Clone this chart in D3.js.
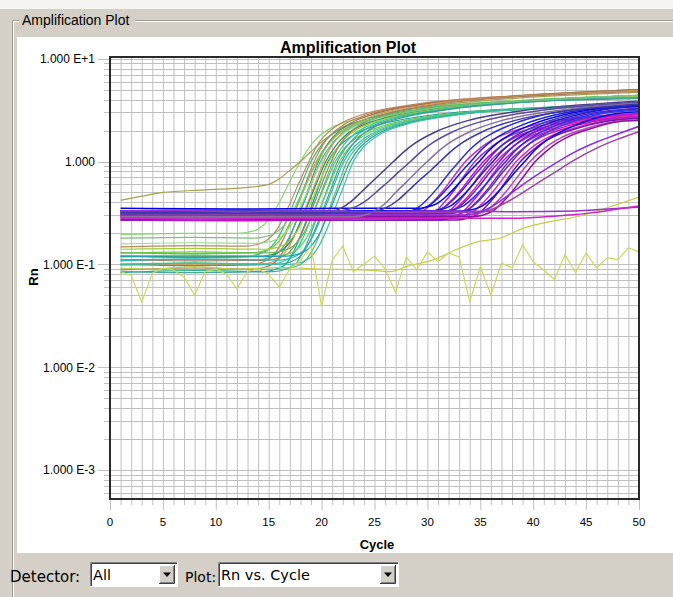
<!DOCTYPE html>
<html><head><meta charset="utf-8">
<script src="https://cdn.jsdelivr.net/npm/d3@7"></script>
<style>html,body{margin:0;padding:0;background:#d4d0c8;} svg{display:block;font-family:"Liberation Sans",Arial,sans-serif;}</style>
</head><body><svg id="c" width="673" height="597"></svg>
<script>
// ---------------- DATA ----------------
const chartTitle = "Amplification Plot";
const xLabel = "Cycle";
const yLabel = "Rn";
const xTickValues = [0, 5, 10, 15, 20, 25, 30, 35, 40, 45, 50];
const yTickValues = [10, 1, 0.1, 0.01, 0.001];
const yTickLabels = ["1.000 E+1", "1.000", "1.000 E-1", "1.000 E-2", "1.000 E-3"];

// early-amplifying detector (green family): [cycle, Rn] points
const greenCurves = [
 [[1,0.195],[7,0.2],[12,0.2],[13,0.205],[14,0.22],[15,0.27],[16,0.4],[17,0.64],[18,1],[19,1.45],[20,1.85],[21,2.15],[23,2.55],[28,3.2],[38,3.9],[50,4.4]],
 [[1,0.42],[3,0.46],[5,0.5],[9,0.53],[13,0.56],[15,0.6],[16,0.68],[17,0.82],[18,1.0],[19,1.25],[20,1.55],[21,1.85],[22,2.1],[24,2.55],[29,3.3],[38,4.1],[50,4.7]],
 [[1,0.148],[8,0.152],[12.8,0.15],[13.8,0.155],[14.8,0.17],[15.8,0.22],[16.8,0.35],[17.8,0.6],[18.8,1],[19.8,1.55],[20.8,2.0],[21.8,2.35],[23.8,2.85],[28.8,3.6],[38.8,4.4],[50,5.0]],
 [[1,0.118],[8,0.122],[13,0.12],[14,0.125],[15,0.14],[16,0.19],[17,0.32],[18,0.57],[19,1],[20,1.45],[21,1.85],[22,2.15],[24,2.55],[29,3.2],[39,3.9],[50,4.4]],
 [[1,0.098],[8,0.102],[13.3,0.1],[14.3,0.104],[15.3,0.118],[16.3,0.168],[17.3,0.295],[18.3,0.545],[19.3,1],[20.3,1.55],[21.3,2.0],[22.3,2.35],[24.3,2.85],[29.3,3.6],[39.3,4.4],[50,5.0]],
 [[1,0.128],[8,0.132],[13.5,0.13],[14.5,0.135],[15.5,0.15],[16.5,0.2],[17.5,0.33],[18.5,0.58],[19.5,1],[20.5,1.45],[21.5,1.85],[22.5,2.15],[24.5,2.55],[29.5,3.2],[39.5,3.9],[50,4.4]],
 [[1,0.088],[8,0.092],[13.7,0.09],[14.7,0.094],[15.7,0.107],[16.7,0.155],[17.7,0.28],[18.7,0.53],[19.7,1],[20.7,1.55],[21.7,2.0],[22.7,2.35],[24.7,2.85],[29.7,3.6],[39.7,4.4],[50,5.0]],
 [[1,0.108],[8,0.112],[13.9,0.11],[14.9,0.115],[15.9,0.13],[16.9,0.18],[17.9,0.31],[18.9,0.56],[19.9,1],[20.9,1.45],[21.9,1.85],[22.9,2.15],[24.9,2.55],[29.9,3.2],[39.9,3.9],[50,4.4]],
 [[1,0.158],[8,0.162],[14,0.16],[15,0.165],[16,0.18],[17,0.23],[18,0.36],[19,0.61],[20,1],[21,1.45],[22,1.85],[23,2.15],[25,2.55],[30,3.2],[40,3.9],[50,4.4]],
 [[1,0.1],[8,0.099],[14.2,0.1],[15.2,0.104],[16.2,0.118],[17.2,0.168],[18.2,0.295],[19.2,0.545],[20.2,1],[21.2,1.55],[22.2,2.0],[23.2,2.35],[25.2,2.85],[30.2,3.6],[40.2,4.4],[50,4.9]],
 [[1,0.12],[8,0.118],[14.4,0.12],[15.4,0.125],[16.4,0.14],[17.4,0.19],[18.4,0.32],[19.4,0.57],[20.4,1],[21.4,1.45],[22.4,1.85],[23.4,2.15],[25.4,2.55],[30.4,3.2],[40.4,3.9],[50,4.3]],
 [[1,0.083],[8,0.087],[14.6,0.085],[15.6,0.089],[16.6,0.1],[17.6,0.15],[18.6,0.275],[19.6,0.525],[20.6,1],[21.6,1.4],[22.6,1.7],[23.6,1.95],[25.6,2.3],[30.6,2.85],[40.6,3.35],[50,3.7]],
 [[1,0.14],[8,0.143],[14.7,0.14],[15.7,0.145],[16.7,0.16],[17.7,0.21],[18.7,0.34],[19.7,0.59],[20.7,1],[21.7,1.45],[22.7,1.85],[23.7,2.15],[25.7,2.55],[30.7,3.2],[40.7,3.9],[50,4.3]],
 [[1,0.112],[8,0.108],[14.9,0.11],[15.9,0.115],[16.9,0.13],[17.9,0.18],[18.9,0.31],[19.9,0.56],[20.9,1],[21.9,1.55],[22.9,2.0],[23.9,2.35],[25.9,2.85],[30.9,3.6],[40.9,4.4],[50,4.8]],
 [[1,0.1],[8,0.103],[15.1,0.1],[16.1,0.104],[17.1,0.118],[18.1,0.168],[19.1,0.295],[20.1,0.545],[21.1,1],[22.1,1.45],[23.1,1.85],[24.1,2.15],[26.1,2.55],[31.1,3.2],[41.1,3.9],[50,4.2]],
 [[1,0.13],[8,0.127],[15.3,0.13],[16.3,0.135],[17.3,0.15],[18.3,0.2],[19.3,0.33],[20.3,0.58],[21.3,1],[22.3,1.4],[23.3,1.7],[24.3,1.95],[26.3,2.3],[31.3,2.85],[41.3,3.35],[50,3.7]],
 [[1,0.085],[8,0.083],[15.5,0.085],[16.5,0.089],[17.5,0.1],[18.5,0.15],[19.5,0.275],[20.5,0.525],[21.5,1],[22.5,1.45],[23.5,1.85],[24.5,2.15],[26.5,2.55],[31.5,3.2],[41.5,3.9],[50,4.2]],
 [[1,0.12],[8,0.123],[15.7,0.12],[16.7,0.125],[17.7,0.14],[18.7,0.19],[19.7,0.32],[20.7,0.57],[21.7,1],[22.7,1.4],[23.7,1.7],[24.7,1.95],[26.7,2.3],[31.7,2.85],[41.7,3.35],[50,3.6]],
 [[1,0.1],[8,0.097],[15.9,0.1],[16.9,0.104],[17.9,0.118],[18.9,0.168],[19.9,0.295],[20.9,0.545],[21.9,1],[22.9,1.45],[23.9,1.85],[24.9,2.15],[26.9,2.55],[31.9,3.2],[41.9,3.9],[50,4.1]],
 [[1,0.11],[8,0.113],[16.1,0.11],[17.1,0.115],[18.1,0.13],[19.1,0.18],[20.1,0.31],[21.1,0.56],[22.1,1],[23.1,1.4],[24.1,1.7],[25.1,1.95],[27.1,2.3],[32.1,2.85],[42.1,3.35],[50,3.6]],
 [[1,0.09],[8,0.088],[16.4,0.09],[17.4,0.094],[18.4,0.107],[19.4,0.155],[20.4,0.28],[21.4,0.53],[22.4,1],[23.4,1.4],[24.4,1.7],[25.4,1.95],[27.4,2.3],[32.4,2.85],[42.4,3.35],[50,3.55]],
 [[1,0.12],[8,0.117],[16.7,0.12],[17.7,0.125],[18.7,0.14],[19.7,0.19],[20.7,0.32],[21.7,0.57],[22.7,1],[23.7,1.4],[24.7,1.7],[25.7,1.95],[27.7,2.3],[32.7,2.85],[42.7,3.35],[50,3.5]],
 [[1,0.1],[8,0.102],[17,0.1],[18,0.104],[19,0.118],[20,0.168],[21,0.295],[22,0.545],[23,1],[24,1.4],[25,1.7],[26,1.95],[28,2.3],[33,2.85],[43,3.35],[50,3.5]],
 [[1,0.18],[8,0.183],[13.6,0.18],[14.6,0.185],[15.6,0.2],[16.6,0.25],[17.6,0.38],[18.6,0.63],[19.6,1],[20.6,1.45],[21.6,1.85],[22.6,2.15],[24.6,2.55],[29.6,3.2],[39.6,3.9],[50,4.4]]
];
const greenColors = ["#86d86a","#a8a050","#b9875e","#3cb371","#c47a4e","#6acc38","#8e7658","#20b2aa",
  "#96e08c","#d89858","#2e8b57","#00a591","#a2cd3a","#a67c5c","#33cc99","#66bb55",
  "#48a8a0","#5fd35f","#3a9d8f","#22bbbb","#4cc070","#1fa0b0","#40c0a0","#7fbf7f"];

// late-amplifying detector (purple / blue family)
const purpleCurves = [
 [[1,0.31],[12,0.315],[22,0.31],[27,0.31],[28,0.32],[29,0.35],[30,0.43],[31,0.56],[32,0.76],[33,1],[34,1.3],[35,1.6],[36,1.85],[38,2.3],[41,2.85],[46,3.4],[50,3.65]],
 [[1,0.29],[12,0.285],[22,0.29],[27.6,0.29],[28.6,0.3],[29.6,0.33],[30.6,0.41],[31.6,0.54],[32.6,0.74],[33.6,1],[34.6,1.25],[35.6,1.5],[36.6,1.72],[38.6,2.05],[41.6,2.45],[46.6,2.8],[50,2.95]],
 [[1,0.33],[12,0.335],[22,0.33],[28.1,0.33],[29.1,0.34],[30.1,0.37],[31.1,0.45],[32.1,0.58],[33.1,0.77],[34.1,1],[35.1,1.3],[36.1,1.6],[37.1,1.85],[39.1,2.3],[42.1,2.85],[47.1,3.4],[50,3.55]],
 [[1,0.27],[12,0.275],[22,0.27],[28.5,0.27],[29.5,0.28],[30.5,0.31],[31.5,0.39],[32.5,0.52],[33.5,0.73],[34.5,1],[35.5,1.25],[36.5,1.5],[37.5,1.72],[39.5,2.05],[42.5,2.45],[47.5,2.8],[50,2.9]],
 [[1,0.35],[12,0.345],[22,0.35],[28.9,0.35],[29.9,0.36],[30.9,0.39],[31.9,0.47],[32.9,0.6],[33.9,0.78],[34.9,1],[35.9,1.3],[36.9,1.6],[37.9,1.85],[39.9,2.3],[42.9,2.85],[47.9,3.4],[50,3.5]],
 [[1,0.3],[12,0.305],[22,0.3],[29.3,0.3],[30.3,0.31],[31.3,0.34],[32.3,0.42],[33.3,0.55],[34.3,0.75],[35.3,1],[36.3,1.25],[37.3,1.5],[38.3,1.72],[40.3,2.05],[43.3,2.45],[48.3,2.8],[50,2.88]],
 [[1,0.32],[12,0.315],[22,0.32],[29.6,0.32],[30.6,0.33],[31.6,0.36],[32.6,0.44],[33.6,0.57],[34.6,0.765],[35.6,1],[36.6,1.3],[37.6,1.6],[38.6,1.85],[40.6,2.3],[43.6,2.85],[48.6,3.4],[50,3.45]],
 [[1,0.28],[12,0.285],[22,0.28],[29.9,0.28],[30.9,0.29],[31.9,0.32],[32.9,0.4],[33.9,0.53],[34.9,0.735],[35.9,1],[36.9,1.25],[37.9,1.5],[38.9,1.72],[40.9,2.05],[43.9,2.45],[48.9,2.8],[50,2.85]],
 [[1,0.33],[12,0.325],[22,0.33],[30.2,0.33],[31.2,0.34],[32.2,0.37],[33.2,0.45],[34.2,0.58],[35.2,0.77],[36.2,1],[37.2,1.3],[38.2,1.6],[39.2,1.85],[41.2,2.3],[44.2,2.85],[49.2,3.4],[50,3.42]],
 [[1,0.3],[12,0.295],[22,0.3],[30.5,0.3],[31.5,0.31],[32.5,0.34],[33.5,0.42],[34.5,0.55],[35.5,0.75],[36.5,1],[37.5,1.25],[38.5,1.5],[39.5,1.72],[41.5,2.05],[44.5,2.45],[50,2.75]],
 [[1,0.31],[12,0.315],[22,0.31],[30.8,0.31],[31.8,0.32],[32.8,0.35],[33.8,0.43],[34.8,0.56],[35.8,0.76],[36.8,1],[37.8,1.3],[38.8,1.6],[39.8,1.85],[41.8,2.3],[44.8,2.85],[50,3.3]],
 [[1,0.27],[12,0.265],[22,0.27],[31.1,0.27],[32.1,0.28],[33.1,0.31],[34.1,0.39],[35.1,0.52],[36.1,0.73],[37.1,1],[38.1,1.25],[39.1,1.5],[40.1,1.72],[42.1,2.05],[45.1,2.45],[50,2.72]],
 [[1,0.33],[12,0.335],[22,0.33],[31.4,0.33],[32.4,0.34],[33.4,0.37],[34.4,0.45],[35.4,0.58],[36.4,0.77],[37.4,1],[38.4,1.3],[39.4,1.6],[40.4,1.85],[42.4,2.3],[45.4,2.85],[50,3.25]],
 [[1,0.29],[12,0.295],[22,0.29],[31.7,0.29],[32.7,0.3],[33.7,0.33],[34.7,0.41],[35.7,0.54],[36.7,0.74],[37.7,1],[38.7,1.25],[39.7,1.5],[40.7,1.72],[42.7,2.05],[45.7,2.45],[50,2.7]],
 [[1,0.31],[12,0.305],[22,0.31],[32,0.31],[33,0.32],[34,0.35],[35,0.43],[36,0.56],[37,0.76],[38,1],[39,1.3],[40,1.6],[41,1.85],[43,2.3],[46,2.85],[50,3.15]],
 [[1,0.29],[12,0.285],[22,0.29],[32.4,0.29],[33.4,0.3],[34.4,0.33],[35.4,0.41],[36.4,0.54],[37.4,0.74],[38.4,1],[39.4,1.25],[40.4,1.5],[41.4,1.72],[43.4,2.05],[46.4,2.45],[50,2.65]],
 [[1,0.27],[12,0.275],[22,0.27],[32.8,0.27],[33.8,0.28],[34.8,0.31],[35.8,0.39],[36.8,0.52],[37.8,0.73],[38.8,1],[39.8,1.25],[40.8,1.5],[41.8,1.72],[43.8,2.05],[46.8,2.45],[50,2.62]],
 [[1,0.33],[12,0.325],[22,0.33],[33.2,0.33],[34.2,0.34],[35.2,0.37],[36.2,0.45],[37.2,0.58],[38.2,0.77],[39.2,1],[40.2,1.3],[41.2,1.6],[42.2,1.85],[44.2,2.3],[47.2,2.85],[50,3.05]],
 [[1,0.3],[12,0.305],[22,0.3],[33.7,0.3],[34.7,0.31],[35.7,0.34],[36.7,0.42],[37.7,0.55],[38.7,0.75],[39.7,1],[40.7,1.25],[41.7,1.5],[42.7,1.72],[44.7,2.05],[47.7,2.45],[50,2.55]],
 [[1,0.29],[12,0.295],[22,0.29],[34.2,0.29],[35.2,0.3],[36.2,0.33],[37.2,0.41],[38.2,0.54],[39.2,0.74],[40.2,1],[41.2,1.25],[42.2,1.5],[43.2,1.72],[45.2,2.05],[48.2,2.45],[50,2.5]],
 [[1,0.32],[12,0.325],[22,0.32],[34,0.32],[35,0.32],[36,0.34],[38,0.43],[40,0.58],[42,0.78],[44,1.05],[46,1.35],[48,1.65],[50,1.95]],
 [[1,0.3],[12,0.295],[22,0.3],[33,0.3],[34,0.305],[36,0.36],[38,0.5],[40,0.7],[42,0.95],[44,1.25],[46,1.55],[48,1.85],[50,2.2]],
 [[1,0.31],[12,0.31],[19.8,0.31],[20.8,0.32],[21.8,0.35],[22.8,0.41],[23.8,0.51],[24.8,0.64],[25.8,0.8],[26.8,1],[27.8,1.25],[28.8,1.5],[30.8,1.95],[33.8,2.5],[38.8,3.1],[46.8,3.7],[50,3.85]],
 [[1,0.33],[12,0.33],[21.4,0.33],[22.4,0.34],[23.4,0.37],[24.4,0.43],[25.4,0.53],[26.4,0.65],[27.4,0.81],[28.4,1],[29.4,1.25],[30.4,1.5],[32.4,1.95],[35.4,2.5],[40.4,3.1],[48.4,3.7],[50,3.8]],
 [[1,0.29],[12,0.29],[23,0.29],[24,0.3],[25,0.33],[26,0.39],[27,0.5],[28,0.63],[29,0.8],[30,1],[31,1.25],[32,1.5],[34,1.95],[37,2.5],[42,3.1],[50,3.7]],
 [[1,0.32],[12,0.32],[24.2,0.32],[25.2,0.33],[26.2,0.36],[27.2,0.42],[28.2,0.52],[29.2,0.65],[30.2,0.8],[31.2,1],[32.2,1.25],[33.2,1.5],[35.2,1.95],[38.2,2.5],[43.2,3.1],[50,3.6]],
 [[1,0.33],[6,0.335],[12,0.325],[18,0.33],[25,0.325],[32,0.33],[38,0.325],[44,0.33],[47,0.345],[50,0.36]],
 [[1,0.28],[8,0.275],[16,0.28],[24,0.275],[32,0.28],[38,0.28],[40,0.285],[43,0.3],[46,0.32],[48,0.345],[50,0.37]]
];
const purpleColors = ["#3030c8","#c030c0","#2020e0","#9a30cc","#0000f0","#d000d0","#4535bb","#b828b8",
  "#1818d0","#e020b0","#5525cc","#cc10cc","#2a2af8","#a020a8","#3b3bd0","#e028c8",
  "#6a1ab0","#0a0ae0","#c040c0","#9010a0","#a040a8","#8a2be2",
  "#4a3d8f","#5a4aa0","#8a6e9e","#3a3aa8","#9932cc","#cc22cc"];

// drifting yellow trace
const yellowDrift = [[1,0.092],[4,0.09],[8,0.095],[12,0.09],[16,0.093],[20,0.09],[24,0.088],[26.5,0.085],[28,0.095],[30.6,0.111],[32.8,0.14],[34.7,0.165],[36.9,0.18],[39.1,0.225],[41.6,0.26],[44.1,0.29],[47,0.355],[50,0.45]];
// noisy yellow trace, cycles 1..50
const yellowNoise = [0.085,0.078,0.043,0.082,0.092,0.088,0.075,0.05,0.085,0.09,
  0.08,0.058,0.085,0.09,0.08,0.06,0.09,0.11,0.15,0.039,
  0.11,0.15,0.085,0.1,0.12,0.09,0.053,0.118,0.088,0.132,
  0.106,0.129,0.118,0.043,0.095,0.05,0.103,0.092,0.155,0.106,
  0.088,0.071,0.124,0.083,0.129,0.092,0.116,0.111,0.145,0.132];

// ---------------- DRAW ----------------
const svg = d3.select("#c");
const W = 673, H = 597;
const plot = {l:110, r:639, t:57, b:499};

const x = d3.scaleLinear().domain([0, 50]).range([plot.l, plot.r]);
const y = d3.scaleLog().domain([5.2e-4, 10.4]).range([plot.b, plot.t]);

// window chrome
svg.append("rect").attr("x",0).attr("y",0).attr("width",W).attr("height",H).attr("fill","#d4d0c8");
svg.append("rect").attr("x",0).attr("y",0).attr("width",W).attr("height",9).attr("fill","#f4f3ef");
svg.append("line").attr("x1",12.5).attr("x2",W).attr("y1",20.5).attr("y2",20.5).attr("stroke","#a09c94");
svg.append("line").attr("x1",13.5).attr("x2",W).attr("y1",21.5).attr("y2",21.5).attr("stroke","#ffffff");
svg.append("line").attr("x1",12.5).attr("x2",12.5).attr("y1",20.5).attr("y2",H).attr("stroke","#a09c94");
svg.append("line").attr("x1",13.5).attr("x2",13.5).attr("y1",21.5).attr("y2",H).attr("stroke","#ffffff");
svg.append("rect").attr("x",19).attr("y",12).attr("width",116).attr("height",16).attr("fill","#d4d0c8");
svg.append("text").attr("x",22).attr("y",25).attr("font-size",14).attr("fill","#000").text(chartTitle);

// white chart panel
svg.append("rect").attr("x",17).attr("y",37).attr("width",W-17).attr("height",516).attr("fill","#ffffff");

// gridlines
const grid = svg.append("g");
grid.selectAll("line.v").data(d3.range(0, 51)).join("line")
  .attr("x1", d => x(d) + 0.5).attr("x2", d => x(d) + 0.5)
  .attr("y1", plot.t).attr("y2", d => plot.b + (d % 5 === 0 ? 11 : 6))
  .attr("stroke", "#c0c0c0").attr("stroke-width", 1);
grid.selectAll("line.h").data(y.ticks()).join("line")
  .attr("x1", d => plot.l - (yTickValues.includes(d) ? 12 : 6)).attr("x2", plot.r)
  .attr("y1", d => Math.round(y(d)) + 0.5).attr("y2", d => Math.round(y(d)) + 0.5)
  .attr("stroke", "#c0c0c0").attr("stroke-width", 1);

// curves
svg.append("clipPath").attr("id","pc").append("rect")
  .attr("x",plot.l).attr("y",plot.t).attr("width",plot.r-plot.l).attr("height",plot.b-plot.t);
const curves = svg.append("g").attr("clip-path","url(#pc)").attr("fill","none");
const smooth = d3.line().x(d => x(d[0])).y(d => y(d[1])).curve(d3.curveMonotoneX);
const straight = d3.line().x((d,i) => x(i + 1)).y(d => y(d));

curves.selectAll("path.g").data(greenCurves).join("path")
  .attr("d", smooth).attr("stroke", (d,i) => greenColors[i]).attr("stroke-width", 1.2);
curves.append("path").datum(yellowDrift).attr("d", smooth).attr("stroke","#c6cc48").attr("stroke-width",1.2);
curves.append("path").datum(yellowNoise).attr("d", straight).attr("stroke","#cdd85a").attr("stroke-width",1.2);
curves.selectAll("path.p").data(purpleCurves).join("path")
  .attr("d", smooth).attr("stroke", (d,i) => purpleColors[i]).attr("stroke-width", 1.5);

// frame
svg.append("rect").attr("x",plot.l).attr("y",plot.t).attr("width",plot.r-plot.l).attr("height",plot.b-plot.t)
  .attr("fill","none").attr("stroke","#2a2a2a").attr("stroke-width",2);

// axis labels
svg.append("g").selectAll("text").data(xTickValues).join("text")
  .attr("x", d => x(d)).attr("y", 526).attr("text-anchor","middle").attr("font-size",11.5).attr("fill","#000")
  .text(d => d);
svg.append("g").selectAll("text").data(yTickValues).join("text")
  .attr("x", 95).attr("y", d => y(d) + 4.5).attr("text-anchor","end").attr("font-size",12).attr("fill","#000")
  .text((d,i) => yTickLabels[i]);

svg.append("text").attr("x",348).attr("y",53).attr("text-anchor","middle").attr("font-size",16)
  .attr("font-weight","bold").text(chartTitle);
svg.append("text").attr("x",377).attr("y",549).attr("text-anchor","middle").attr("font-size",13)
  .attr("font-weight","bold").text(xLabel);
svg.append("text").attr("transform","translate(38,277) rotate(-90)").attr("text-anchor","middle")
  .attr("font-size",13).attr("font-weight","bold").text(yLabel);

// bottom controls
const uiFont = "'DejaVu Sans', Verdana, sans-serif";
function combo(x0, y0, w, h, label) {
  const g = svg.append("g");
  g.append("rect").attr("x",x0).attr("y",y0).attr("width",w).attr("height",h).attr("fill","#fff");
  g.append("path").attr("d",`M${x0+0.5},${y0+h}V${y0+0.5}H${x0+w}`).attr("stroke","#808080").attr("fill","none");
  g.append("path").attr("d",`M${x0+1.5},${y0+h-1}V${y0+1.5}H${x0+w-1}`).attr("stroke","#404040").attr("fill","none");
  g.append("path").attr("d",`M${x0},${y0+h-0.5}H${x0+w-0.5}V${y0}`).attr("stroke","#ffffff").attr("fill","none");
  const bx = x0 + w - 19, by = y0 + 3, bw = 16, bh = h - 6;
  g.append("rect").attr("x",bx).attr("y",by).attr("width",bw).attr("height",bh).attr("fill","#d4d0c8");
  g.append("path").attr("d",`M${bx+0.5},${by+bh}V${by+0.5}H${bx+bw}`).attr("stroke","#ffffff").attr("fill","none");
  g.append("path").attr("d",`M${bx},${by+bh-0.5}H${bx+bw-0.5}V${by}`).attr("stroke","#404040").attr("fill","none");
  g.append("path").attr("d",`M${bx+1},${by+bh-1.5}H${bx+bw-1.5}V${by+1}`).attr("stroke","#808080").attr("fill","none");
  const cx = bx + bw/2, cy = by + bh/2;
  g.append("path").attr("d",`M${cx-4},${cy-2}H${cx+4}L${cx},${cy+2.5}Z`).attr("fill","#000");
  g.append("text").attr("x",x0+3).attr("y",y0+h/2+5.5).attr("font-size",14.5).attr("font-family",uiFont)
    .attr("fill","#000").text(label);
}
svg.append("text").attr("x",10).attr("y",582).attr("font-size",15).attr("font-family",uiFont).attr("fill","#000")
  .text("Detector:");
combo(90, 562, 88, 25, "All");
svg.append("text").attr("x",185).attr("y",582).attr("font-size",14).attr("font-family",uiFont).attr("fill","#000").text("Plot:");
combo(218, 562, 181, 25, "Rn vs. Cycle");
</script></body></html>
